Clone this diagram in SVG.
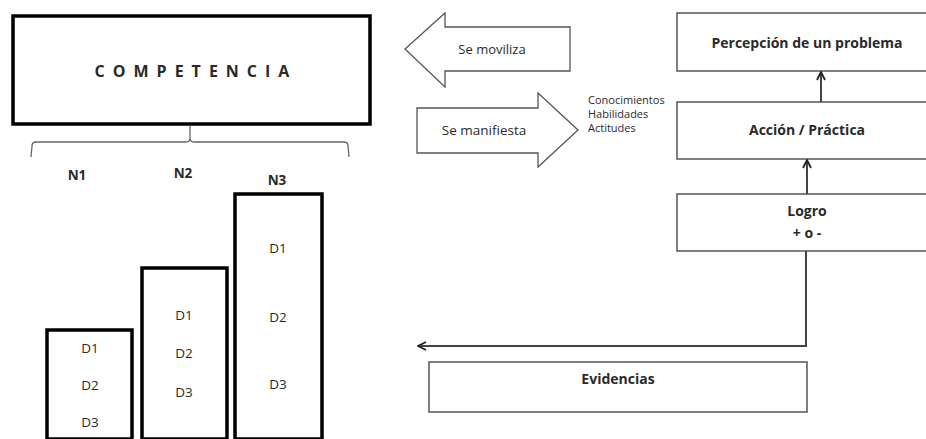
<svg xmlns="http://www.w3.org/2000/svg" width="926" height="439" viewBox="0 0 926 439">
<style>
.t{font-family:"Open Sans","Liberation Sans",sans-serif;fill:#2a2a2a;text-anchor:middle}
.b{font-weight:bold}
.s{text-anchor:start}
.thick{fill:#fff;stroke:#000;stroke-width:3.5}
.box{fill:#fff;stroke:#555;stroke-width:1.5}
.ar{fill:#fff;stroke:#555;stroke-width:1.3}
.ln{fill:none;stroke:#444;stroke-width:2}
</style>
<defs>
<marker id="ah" viewBox="0 0 10 10" refX="9" refY="5" markerWidth="10" markerHeight="10" markerUnits="userSpaceOnUse" orient="auto">
<path d="M1,1 L9,5 L1,9" fill="none" stroke="#222" stroke-width="1.8"/>
</marker>
</defs>
<rect width="926" height="439" fill="#fff"/>
<g id="competencia">
<rect class="thick" x="13" y="16" width="357" height="108" stroke-width="4"/>
<text class="t b" x="196" y="77" font-size="16" letter-spacing="8" font-family="Liberation Sans,sans-serif">COMPETENCIA</text>
</g>
<g id="brace">
<path d="M190,126 L190,138 Q190,142 186,142 L36,142 Q32,142 32,146 L31,157 M190,138 Q190,142 194,142 L344,142 Q348,142 348,146 L349,157" fill="none" stroke="#666" stroke-width="1.3"/>
</g>
<g id="n1">
<text class="t b" x="77" y="180" font-size="13.5">N1</text>
<rect class="thick" x="47" y="330" width="85" height="109" stroke-width="3"/>
<text class="t" x="90" y="353" font-size="13.5">D1</text>
<text class="t" x="90" y="390" font-size="13.5">D2</text>
<text class="t" x="90" y="427" font-size="13.5">D3</text>
</g>
<g id="n2">
<text class="t b" x="183" y="178" font-size="13.5">N2</text>
<rect class="thick" x="142" y="268" width="85" height="171" stroke-width="3"/>
<text class="t" x="184" y="320" font-size="13.5">D1</text>
<text class="t" x="184" y="358" font-size="13.5">D2</text>
<text class="t" x="184" y="397" font-size="13.5">D3</text>
</g>
<g id="n3">
<text class="t b" x="277" y="185" font-size="13.5">N3</text>
<rect class="thick" x="235" y="194" width="87" height="245" stroke-width="3"/>
<text class="t" x="278" y="253" font-size="13.5">D1</text>
<text class="t" x="278" y="322" font-size="13.5">D2</text>
<text class="t" x="278" y="389" font-size="13.5">D3</text>
</g>
<g id="se-moviliza">
<path class="ar" d="M405,49 L445,13 L445,27 L570,27 L570,71 L445,71 L445,87 Z"/>
<text class="t" x="492" y="54" font-size="13">Se moviliza</text>
</g>
<g id="se-manifiesta">
<path class="ar" d="M417,108 L538,108 L538,93 L578,130 L538,167 L538,153 L417,153 Z"/>
<text class="t" x="484" y="135" font-size="13.5">Se manifiesta</text>
<text class="t s" x="588" y="104" font-size="11">Conocimientos</text>
<text class="t s" x="588" y="118" font-size="11">Habilidades</text>
<text class="t s" x="588" y="132" font-size="11">Actitudes</text>
</g>
<g id="percepcion">
<rect class="box" x="677" y="13" width="260" height="58"/>
<text class="t b" x="807" y="48" font-size="14">Percepción de un problema</text>
</g>
<g id="accion">
<rect class="box" x="677" y="102" width="260" height="57"/>
<text class="t b" x="807" y="135" font-size="14">Acción / Práctica</text>
</g>
<g id="logro">
<rect class="box" x="677" y="194" width="260" height="57"/>
<text class="t b" x="807" y="216" font-size="14">Logro</text>
<text class="t b" x="807" y="238" font-size="14">+ o -</text>
</g>
<g id="evidencias">
<rect class="box" x="429" y="362" width="378" height="50"/>
<text class="t b" x="618" y="384" font-size="14">Evidencias</text>
</g>
<g id="connectors">
<line class="ln" x1="821" y1="102" x2="821" y2="72" marker-end="url(#ah)"/>
<line class="ln" x1="807" y1="194" x2="807" y2="160" marker-end="url(#ah)"/>
<polyline class="ln" points="806,251 806,346 418,346" marker-end="url(#ah)"/>
</g>
</svg>
